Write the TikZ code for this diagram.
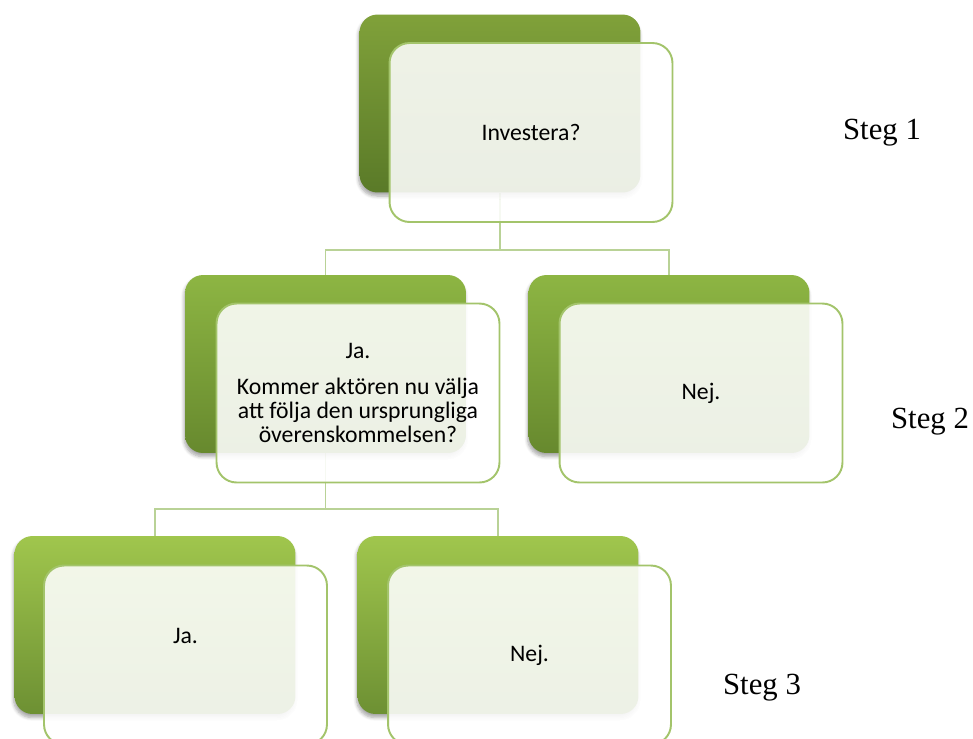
\documentclass[tikz,border=0pt]{standalone}
\usepackage{fontspec}
\setmainfont{Carlito}
\newfontfamily\stegfont{Liberation Serif}
\usetikzlibrary{backgrounds,shadows.blur}

\definecolor{green1a}{HTML}{80A13A}
\definecolor{green1b}{HTML}{5A7A28}
\definecolor{green2a}{HTML}{8DB543}
\definecolor{green2b}{HTML}{67892E}
\definecolor{green3a}{HTML}{A0C64D}
\definecolor{green3b}{HTML}{6D9033}
\definecolor{cardline}{HTML}{A3C46B}
\definecolor{connline}{HTML}{B9D296}

\begin{document}
\begin{tikzpicture}[%
      x=0.02cm, y=-0.02cm,
      back/.style={rounded corners=0.36cm, minimum width=5.62cm,
                   minimum height=3.56cm, inner sep=0pt,
                   blur shadow={shadow xshift=-0.5pt, shadow yshift=-2pt,
                                shadow blur steps=6, shadow opacity=35}},
      lvl1/.style={back, top color=green1a, bottom color=green1b},
      lvl2/.style={back, top color=green2a, bottom color=green2b},
      lvl3/.style={back, top color=green3a, bottom color=green3b},
      card/.style={draw=cardline, line width=1.1pt, fill=white,
                   fill opacity=0.88, text opacity=1, draw opacity=1,
                   rounded corners=0.4cm, minimum width=5.66cm,
                   minimum height=3.58cm, align=center,
                   font={\fontsize{13.5}{13.8}\selectfont}},
      conn/.style={draw=connline, line width=1.1pt},
      steg/.style={font={\stegfont\fontsize{17.5}{19}\selectfont}}
    ]
    \useasboundingbox (0,0) rectangle (973,738);
    \node [lvl1] (inv back) at (500,103.5) {};
    \node [card] (inv) at (531,132.5) {Investera?};
    \node [lvl2] (ja back) at (325.5,364) {};
    \node [card] (ja) at (358,393)
     {Ja.\\[0.24cm]Kommer aktören nu välja\\att följa den ursprungliga\\överenskommelsen?};
    \node [lvl2] (nej back) at (669,364) {};
    \node [card] (nej) at (701,393) {Nej.};
    \node [lvl3] (ja2 back) at (155,625) {};
    \node [card] (ja2) at (185.5,655) {Ja.\\[0.12cm]\strut};
    \node [lvl3] (nej2 back) at (498,625) {};
    \node [card] (nej2) at (529.5,655) {Nej.};
    \node [steg] (steg 1) at (882,133) {Steg 1};
    \node [steg] (steg 2) at (930,422) {Steg 2};
    \node [steg] (steg 3) at (762,688) {Steg 3};
    \begin{scope}[on background layer]
     \coordinate (fork a) at (500,250);
     \coordinate (fork b) at (325.5,509);
     \draw [conn] (inv back.south) -- (fork a) -| (ja back.north);
     \draw [conn] (fork a) -| (nej back.north);
     \draw [conn] (ja back.south) -- (fork b) -| (ja2 back.north);
     \draw [conn] (fork b) -| (nej2 back.north);
    \end{scope}
\end{tikzpicture}
\end{document}
